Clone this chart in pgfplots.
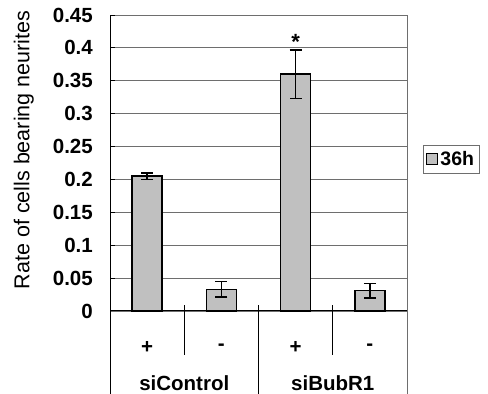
\documentclass[border=0pt]{standalone}
\usepackage{fontspec}
\setmainfont{Liberation Sans}
\usepackage{pgfplots}
\pgfplotsset{compat=1.18}
\definecolor{barfill}{RGB}{192,192,192}
\definecolor{gridgray}{RGB}{110,110,110}
\newcommand{\bigfont}{\fontsize{20.5bp}{24bp}\selectfont}
\begin{document}
\begin{tikzpicture}
\useasboundingbox (0,0) rectangle (488bp,394bp);
\begin{axis}[
  at={(110bp,83bp)}, anchor=south west,
  scale only axis, width=297bp, height=296bp,
  xmin=0.5, xmax=4.5, ymin=0, ymax=0.45,
  clip=false,
  axis lines*=left, axis line style={-, black, line width=1bp},
  ytick={0,0.05,0.1,0.15,0.2,0.25,0.3,0.35,0.4,0.45},
  yticklabels={0,0.05,0.1,0.15,0.2,0.25,0.3,0.35,0.4,0.45},
  ymajorgrids, grid style={gridgray, line width=0.9bp},
  tick align=inside, major tick length=5bp,
  y tick style={black, line width=1bp},
  yticklabel style={font=\bigfont\bfseries, inner sep=0pt, xshift=-17bp},
  xtick={1,2,3,4}, xticklabels={+,-,+,-},
  x tick style={draw=none},
  xticklabel style={font=\bigfont\bfseries, anchor=center, yshift=-31bp},
  ylabel={Rate of cells bearing neurites},
  ylabel style={at={(axis description cs:-0.29,0.544)}, anchor=center, font=\fontsize{21.5bp}{24bp}\selectfont},
  ybar, bar width=30bp,
  legend style={at={(axis description cs:1.054,0.561)}, anchor=north west,
    draw=gridgray, line width=0.8bp, font=\fontsize{19.5bp}{22bp}\selectfont\bfseries,
    inner xsep=3bp, inner ysep=4bp},
  legend image code/.code={\draw[fill=barfill, draw=black, line width=1bp] (0bp,-5.5bp) rectangle (11bp,5.5bp);},
]
\addplot[fill=barfill, draw=black, line width=1.5bp,
  error bars/.cd, y dir=both, y explicit,
  error bar style={line width=1.5bp, black},
  error mark options={rotate=90, mark size=6bp, line width=1.5bp, black}]
  table[x=x, y=y, y error=err] {
x y err
1 0.205 0.005
2 0.033 0.012
3 0.360 0.037
4 0.031 0.011
};
\legend{36h}
\node[anchor=base, inner sep=0pt, font=\fontsize{22bp}{24bp}\selectfont\bfseries] at (axis cs:3,0.397) {*};
\end{axis}
% category table below the plot
\draw[black, line width=1bp] (110bp,0bp) -- (110bp,83bp);
\draw[gridgray, line width=1bp] (407bp,0bp) -- (407bp,379bp);
\draw[black, line width=1bp] (184.25bp,39bp) -- (184.25bp,89bp);
\draw[black, line width=1bp] (332.75bp,39bp) -- (332.75bp,89bp);
\draw[black, line width=1bp] (258.5bp,0bp) -- (258.5bp,89bp);
\node[anchor=base, inner sep=0pt, font=\bigfont\bfseries] at (184.25bp,3.5bp) {siControl};
\node[anchor=base, inner sep=0pt, font=\bigfont\bfseries] at (332.75bp,3.5bp) {siBubR1};
\end{tikzpicture}
\end{document}
